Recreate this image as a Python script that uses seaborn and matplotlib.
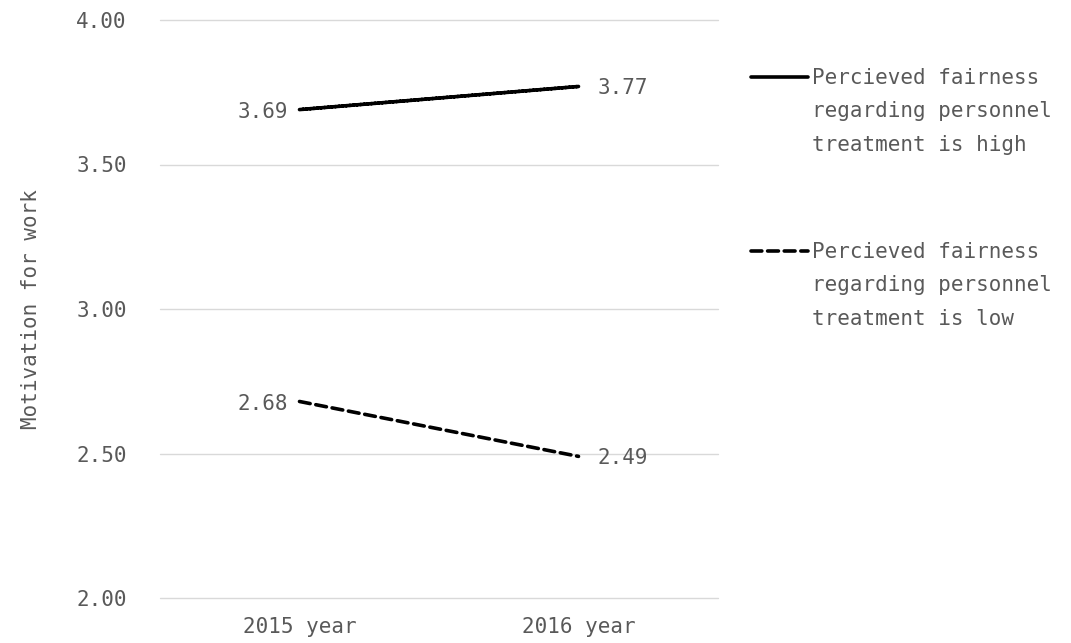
import matplotlib
matplotlib.use("Agg")
import matplotlib.pyplot as plt
import seaborn as sns
import pandas as pd
from matplotlib.lines import Line2D

years = ["2015 year", "2016 year"]
high_vals = [3.69, 3.77]
low_vals = [2.68, 2.49]
series_names = ["Percieved fairness\nregarding personnel\ntreatment is high",
                "Percieved fairness\nregarding personnel\ntreatment is low"]
yticks = [2.00, 2.50, 3.00, 3.50, 4.00]
ylabel = "Motivation for work"

sns.set_theme(style="white")
plt.rcParams['font.family'] = ['DejaVu Sans Mono']
TXT = "#595959"
FS = 15

df = pd.DataFrame({
    "year": years * 2,
    "value": high_vals + low_vals,
    "series": [series_names[0]] * 2 + [series_names[1]] * 2,
})

fig = plt.figure(figsize=(10.71, 6.43), dpi=100)
ax = fig.add_axes([160/1071, 45/643, 558/1071, 578/643])

sns.lineplot(data=df, x="year", y="value", hue="series", style="series",
             palette=["black", "black"], dashes=[(1, 0), (3, 1.6)],
             linewidth=2.6, ax=ax, legend=False, sort=False)
for l in ax.lines:
    l.set_dash_capstyle("round")
    l.set_solid_capstyle("round")

ax.set_xlim(-0.5, 1.5)
ax.set_ylim(2.0, 4.0)
ax.set_yticks(yticks)
ax.set_yticklabels([f"{v:.2f}" for v in yticks], color=TXT, fontsize=FS)
ax.set_xticks(range(len(years)))
ax.set_xticklabels(years, color=TXT, fontsize=FS)
ax.tick_params(axis="x", length=0, pad=14)
ax.tick_params(axis="y", length=0, pad=24)
ax.yaxis.grid(True, color="#d9d9d9", linewidth=1)
for gl in ax.get_ygridlines():
    gl.set_clip_on(False)
ax.xaxis.grid(False)
for s in ax.spines.values():
    s.set_visible(False)
ax.set_xlabel("")
ax.set_ylabel(ylabel, color=TXT, fontsize=FS, labelpad=25)

# data labels
for vals in (high_vals, low_vals):
    ax.annotate(f"{vals[0]:.2f}", (0, vals[0]), xytext=(-8, -2), textcoords="offset points",
                ha="right", va="center", color=TXT, fontsize=FS)
    ax.annotate(f"{vals[1]:.2f}", (1, vals[1]), xytext=(14, -1), textcoords="offset points",
                ha="left", va="center", color=TXT, fontsize=FS)

# legend (manual, handle aligned with first line)
leg_styles = [(1, 0), (3, 1.6)]
leg_y = [77/643, 251/643]
for name, dsh, yy in zip(series_names, leg_styles, leg_y):
    y = 1 - yy
    ln = Line2D([751/1071, 808/1071], [y, y], transform=fig.transFigure,
                color="black", linewidth=2.6,
                solid_capstyle="round", dash_capstyle="round")
    if dsh != (1, 0):
        ln.set_dashes(dsh)
    fig.add_artist(ln)
    fig.text(812/1071, y + 9.5/643, name, ha="left", va="top", color=TXT,
             fontsize=FS, linespacing=1.85)

fig.savefig("out.png", dpi=100, facecolor="white")
